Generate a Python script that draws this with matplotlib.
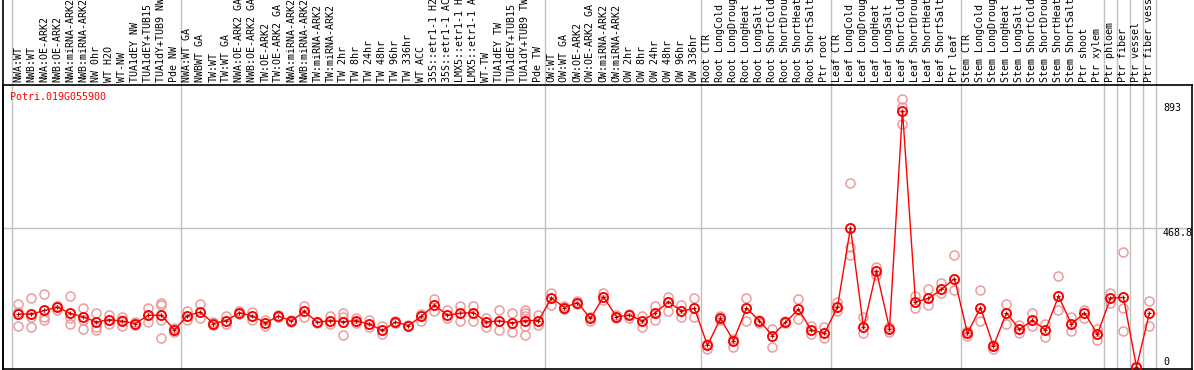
import matplotlib
matplotlib.use("Agg")
import matplotlib.pyplot as plt
from matplotlib.transforms import blended_transform_factory

gene = "Potri.019G055900"

samples = [
    "NWA:WT", "NWB:WT", "NWA:OE-ARK2", "NWB:OE-ARK2", "NWA:miRNA-ARK2", "NWB:miRNA-ARK2",
    "NW 0hr", "WT H2O", "WT-NW", "TUA1dEY NW", "TUA1dEY+TUB15 NW", "TUA1dY+TUB9 NW", "Pde NW",
    "NWA:WT GA", "NWBWT GA", "TW:WT", "TW:WT GA", "NWA:OE-ARK2 GA", "NWB:OE-ARK2 GA",
    "TW:OE-ARK2", "TW:OE-ARK2 GA", "NWA:miRNA-ARK2", "NWB:miRNA-ARK2", "TW:miRNA-ARK2",
    "TW:miRNA-ARK2", "TW 2hr", "TW 8hr", "TW 24hr", "TW 48hr", "TW 96hr", "TW 336hr", "WT ACC",
    "35S::etr1-1 H2O", "35S::etr1-1 ACC", "LMX5::etr1-1 H2O", "LMX5::etr1-1 ACC", "WT-TW",
    "TUA1dEY TW", "TUA1dEY+TUB15 TW", "TUA1dY+TUB9 TW", "Pde TW",
    "OW:WT", "OW:WT GA", "OW:OE-ARK2", "OW:OE-ARK2 GA", "OW:miRNA-ARK2", "OW:miRNA-ARK2",
    "OW 2hr", "OW 8hr", "OW 24hr", "OW 48hr", "OW 96hr", "OW 336hr",
    "Root CTR", "Root LongCold", "Root LongDrought", "Root LongHeat", "Root LongSalt",
    "Root ShortCold", "Root ShortDrought", "Root ShortHeat", "Root ShortSalt", "Ptr root",
    "Leaf CTR", "Leaf LongCold", "Leaf LongDrought", "Leaf LongHeat", "Leaf LongSalt",
    "Leaf ShortCold", "Leaf ShortDrought", "Leaf ShortHeat", "Leaf ShortSalt", "Ptr leaf",
    "Stem CTR", "Stem LongCold", "Stem LongDrought", "Stem LongHeat", "Stem LongSalt",
    "Stem ShortCold", "Stem ShortDrought", "Stem ShortHeat", "Stem ShortSalt", "Ptr shoot",
    "Ptr xylem", "Ptr phloem", "Ptr fiber", "Ptr vessel", "Ptr fiber vessel",
]

means = [
    179, 179, 191, 202, 181, 169, 152, 160, 155, 147, 175, 175, 125,
    174, 186, 147, 157, 184, 172, 149, 172, 156, 188, 151, 157, 153, 157, 144, 124, 152,
    140, 172, 209, 175, 182, 184, 152, 156, 149, 157, 157,
    233, 201, 218, 164, 237, 170, 175, 156, 184, 220, 189, 198,
    73, 164, 89, 199, 156, 106, 151, 195, 124, 114,
    203, 471, 134, 324, 130, 867, 220, 232, 262, 299,
    114, 201, 71, 183, 127, 158, 125, 239, 145, 183, 111,
    233, 235, 0, 183,
]

replicates = [
    [212, 138, 185], [233, 134, 170], [246, 170, 158], [206, 192], [239, 145, 165],
    [199, 130, 158], [183, 125, 136], [175, 145, 160], [170, 138, 158], [153, 142],
    [200, 153], [217, 210, 158, 97], [131, 119],
    [188, 160], [212, 164], [142, 153], [172, 145], [188, 180], [186, 158], [158, 138],
    [176, 168], [160, 152], [207, 170], [153, 149], [174, 147], [181, 170, 107],
    [164, 150], [158, 136], [139, 111], [156, 148], [142], [179, 156], [229, 190],
    [192, 164], [206, 154], [206, 154], [166, 136], [191, 124], [181, 118],
    [192, 183, 174, 138, 108], [176, 142],
    [249, 210], [207, 195], [222, 214], [155, 170], [249, 228], [175, 165], [180, 165],
    [172, 134], [206, 158], [237, 190], [208, 168], [232, 168],
    [60, 78], [172, 160], [68, 95], [233, 154], [150, 160], [127, 68], [155, 148],
    [230, 161], [138, 111], [136, 99],
    [220, 190], [623, 406, 380], [170, 114], [338, 310], [119, 136], [906, 878, 820],
    [239, 198], [262, 211], [284, 249], [378, 260],
    [105, 120], [260, 156], [60, 75], [212, 145], [142, 116], [183, 138], [144, 102],
    [307, 192], [170, 120], [192, 164], [130, 91],
    [249, 215], [390, 198, 120], [0], [223, 138],
]

group_edges = [-0.5, 12.5, 40.5, 52.5, 62.5, 72.5, 83.5, 84.5, 85.5, 86.5, 87.5]

plt.rcParams["font.family"] = "DejaVu Sans Mono"
fs = 7.2

fig = plt.figure(figsize=(11.94, 3.70), dpi=100)
ax = fig.add_axes([3 / 1194, 1 / 370, 1189 / 1194, 284 / 370])

x = list(range(len(samples)))
rx = [i for i, r in zip(x, replicates) for _ in r]
ry = [v for r in replicates for v in r]

for b in group_edges:
    ax.axvline(b, ymin=0, ymax=1.31, color="#c0c0c0", lw=1, clip_on=False, zorder=0)
ax.axhline(468.8, color="#c0c0c0", lw=1, zorder=0)

ax.plot(rx, ry, "o", ls="none", ms=6.5, mfc="none", mec="#ec9c9c", mew=1.1, zorder=2)
ax.plot(x, means, "-", color="red", lw=1, zorder=3)
ax.plot(x, means, "o", ms=6.5, mfc="none", mec="red", mew=1.4, zorder=4)
ax.plot(x, means, "+", ms=3, color="#aa0000", mew=0.8, zorder=5)

ax.set_xlim(-1.19, 90.27)
ax.set_ylim(-6.8, 953.4)
ax.set_xticks(x)
ax.set_xticklabels(samples, rotation=90, fontsize=fs)
ax.tick_params(axis="x", top=True, labeltop=True, bottom=False, labelbottom=False,
               length=0, pad=2)
ax.set_yticks([])
for s in ax.spines.values():
    s.set_color("black")
    s.set_linewidth(1.2)
ax.plot([0, 0], [0, 1.31], transform=ax.transAxes, color="black", lw=1.2, clip_on=False)

tr = blended_transform_factory(ax.transAxes, ax.transData)
ax.text(0.9756, 893, "893", transform=tr, va="top", ha="left", fontsize=fs, clip_on=False)
ax.text(0.9756, 468.8, "468.8", transform=tr, va="top", ha="left", fontsize=fs, clip_on=False)
ax.text(0.9756, 0, "0", transform=tr, va="bottom", ha="left", fontsize=fs)

ax.text(0.0059, 0.958, gene, transform=ax.transAxes, color="red", va="center", ha="left",
        fontsize=fs)

fig.savefig("out.png", dpi=100)
